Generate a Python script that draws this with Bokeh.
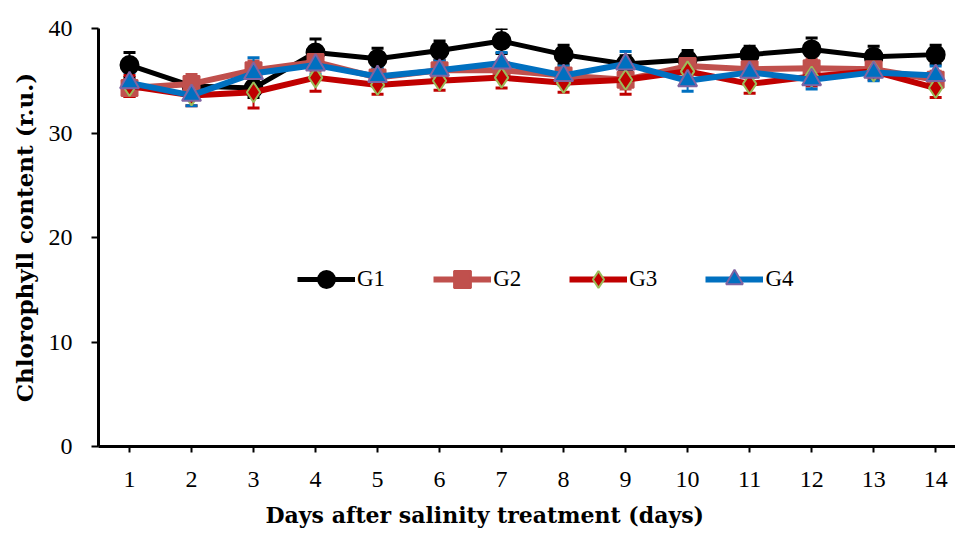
from bokeh.plotting import figure
from bokeh.models import ColumnDataSource, Whisker, TeeHead, Legend, LegendItem, FixedTicker, Range1d, Title
from bokeh.embed import file_html
from bokeh.resources import INLINE

days = list(range(1, 15))
day_labels = [str(d) for d in days]

g1 = [36.5, 34.5, 34.3, 37.7, 37.1, 37.9, 38.8, 37.5, 36.6, 37.0, 37.5, 38.0, 37.3, 37.5]
g1_err = [1.2, 0.9, 0.9, 1.3, 1.0, 0.9, 1.2, 0.9, 0.8, 0.9, 0.8, 1.1, 1.0, 0.9]
g2 = [34.3, 34.7, 36.0, 36.8, 35.3, 36.0, 36.0, 35.5, 35.1, 36.4, 36.1, 36.2, 36.1, 35.1]
g2_err = [0.8, 0.9, 0.9, 0.9, 0.8, 0.9, 0.9, 0.8, 0.9, 0.9, 0.8, 0.9, 0.8, 0.8]
g3 = [34.5, 33.6, 33.9, 35.3, 34.6, 35.0, 35.3, 34.8, 35.1, 35.9, 34.7, 35.4, 35.9, 34.3]
g3_err = [1.0, 1.0, 1.5, 1.3, 0.9, 0.9, 1.0, 0.9, 1.4, 1.0, 0.9, 0.9, 0.8, 0.9]
g4 = [34.8, 33.6, 35.7, 36.5, 35.4, 36.0, 36.7, 35.5, 36.6, 35.0, 35.8, 35.1, 35.8, 35.5]
g4_err = [1.0, 1.0, 1.5, 0.9, 0.9, 0.9, 1.0, 0.9, 1.2, 1.0, 0.9, 0.9, 0.8, 0.9]

x_title = "Days after salinity treatment (days)"
y_title = "Chlorophyll content (r.u.)"

series = [
    ("G1", g1, g1_err, "black", "circle", "black", 5, 18),
    ("G2", g2, g2_err, "#C0504D", "square", "#C0504D", 6, 16),
    ("G3", g3, g3_err, "#C00000", "diamond", "#9BBB59", 6, 20),
    ("G4", g4, g4_err, "#0070C0", "triangle", "#8064A2", 6, 19),
]

SERIF = "Liberation Serif"
TITLE_FONT = "DejaVu Serif"

p = figure(width=955, height=543, output_backend="svg", toolbar_location=None,
           x_range=Range1d(0.5, 14.32), y_range=Range1d(0, 40),
           min_border_left=98, min_border_top=28, min_border_bottom=97, min_border_right=0)
p.outline_line_color = None
p.xgrid.grid_line_color = None
p.ygrid.grid_line_color = None

items = []
for name, vals, errs, color, marker, edge, lw, size in series:
    src = ColumnDataSource(dict(x=days, y=vals,
                                up=[v + e for v, e in zip(vals, errs)],
                                lo=[v - e for v, e in zip(vals, errs)]))
    w = Whisker(source=src, base="x", upper="up", lower="lo",
                line_color=color, line_width=2,
                upper_head=TeeHead(size=12, line_color=color, line_width=3),
                lower_head=TeeHead(size=12, line_color=color, line_width=3))
    p.add_layout(w)
    ln = p.line("x", "y", source=src, line_color=color, line_width=lw)
    sc = p.scatter("x", "y", source=src, marker=marker, size=size,
                   fill_color=color, line_color=edge, line_width=2)
    items.append(LegendItem(label=name, renderers=[ln, sc]))

legend = Legend(items=items, orientation="horizontal", location=(199, 146),
                glyph_width=58, glyph_height=42, label_standoff=2, spacing=48,
                padding=0, margin=0, background_fill_alpha=0, border_line_alpha=0,
                label_text_font=SERIF, label_text_font_size="23px", label_text_color="black")
p.add_layout(legend, "center")

p.xaxis.ticker = FixedTicker(ticks=days)
p.xaxis.major_label_overrides = {d: l for d, l in zip(days, day_labels)}
p.yaxis.ticker = FixedTicker(ticks=[0, 10, 20, 30, 40])
p.xaxis.minor_tick_line_color = None
p.yaxis.minor_tick_line_color = None

for ax in (p.xaxis, p.yaxis):
    ax.axis_line_width = 3
    ax.axis_line_color = "black"
    ax.major_tick_line_width = 2
    ax.major_tick_line_color = "black"
    ax.major_tick_in = 0
    ax.major_tick_out = 7
    ax.major_label_text_font = SERIF
    ax.major_label_text_font_size = "24px"
    ax.major_label_text_color = "black"

p.yaxis.axis_label = y_title
p.yaxis.axis_label_text_font = TITLE_FONT
p.yaxis.axis_label_text_font_style = "bold"
p.yaxis.axis_label_text_font_size = "23px"
p.yaxis.axis_label_text_color = "black"

p.xaxis.major_tick_out = 6
p.xaxis.major_label_standoff = 19
p.yaxis.major_label_standoff = 19
p.yaxis.axis_label_standoff = 8

xt = Title(text=x_title, align="left", offset=167, standoff=20,
           text_font=TITLE_FONT, text_font_style="bold", text_font_size="22px",
           text_color="black")
p.add_layout(xt, "below")

open("out.html", "w").write(file_html(p, INLINE))
